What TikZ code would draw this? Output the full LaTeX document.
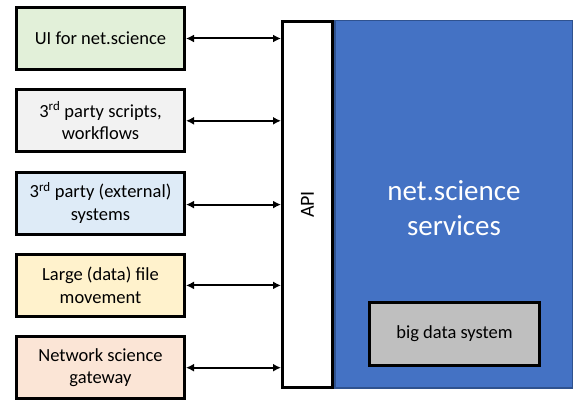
\documentclass[tikz,border=0pt]{standalone}
\usepackage{fontspec}
\setmainfont{Carlito}
\usetikzlibrary{positioning,arrows.meta}

\definecolor{uigreen}{HTML}{E2F0D9}
\definecolor{scriptgray}{HTML}{F2F2F2}
\definecolor{extblue}{HTML}{DEEBF7}
\definecolor{fileyellow}{HTML}{FFF2CC}
\definecolor{gwpeach}{HTML}{FBE5D6}
\definecolor{svcblue}{HTML}{4472C4}
\definecolor{svcedge}{HTML}{2F528F}
\definecolor{bdgray}{HTML}{BFBFBF}

\begin{document}
\begin{tikzpicture}[x=1pt,y=1pt]
    \tikzstyle{client}=[draw,line width=3pt,rectangle,minimum width=168pt,minimum height=62pt,
                        align=center,inner sep=0,font=\fontsize{18.5}{22.5}\selectfont,node distance=17.3pt]
    \tikzstyle{link}=[<->,>={Latex[length=8pt,width=8pt]},line width=2pt]
    \useasboundingbox (0,0) rectangle (574,-401);
    {
        % services block and the api in front of it
        \node[draw=svcedge,fill=svcblue,line width=1.5pt,minimum width=237.5pt,minimum height=367.5pt,inner sep=0]
            (svc) at (453.5,-204.5) {};
        \node[text=white,align=center,font=\fontsize{29}{35.5}\selectfont] (svclabel) at (454,-208) {net.science\\services};
        \node[draw,fill=bdgray,line width=3pt,minimum width=170pt,minimum height=63pt,inner sep=0,
              font=\fontsize{18.5}{22.5}\selectfont] (bigdata) at (454.5,-334) {big data system};
        \node[draw,fill=white,line width=3pt,minimum width=50pt,minimum height=366pt,inner sep=0]
            (api) at (307.5,-204.5) {};
        \node[rotate=90,font=\fontsize{20}{24}\selectfont] (apilabel) at (api.center) {API};

        % clients on the left
        \node[client,fill=uigreen] (ui) at (100.5,-38.5) {UI for net.science};
        \node[client,fill=scriptgray] (scripts) [below=of ui] {3\textsuperscript{rd} party scripts,\\workflows};
        \node[client,fill=extblue] (external) [below=of scripts] {3\textsuperscript{rd} party (external)\\systems};
        \node[client,fill=fileyellow] (files) [below=of external] {Large (data) file\\movement};
        \node[client,fill=gwpeach] (gateway) [below=of files] {Network science\\gateway};

        \draw[link] (ui.east) -- (ui.east -| api.west);
        \draw[link] (scripts.east) -- (scripts.east -| api.west);
        \draw[link] ([yshift=-1.5pt]external.east) -- ([yshift=-1.5pt]external.east -| api.west);
        \draw[link] (files.east) -- (files.east -| api.west);
        \draw[link] (gateway.east) -- (gateway.east -| api.west);
    }
\end{tikzpicture}
\end{document}
